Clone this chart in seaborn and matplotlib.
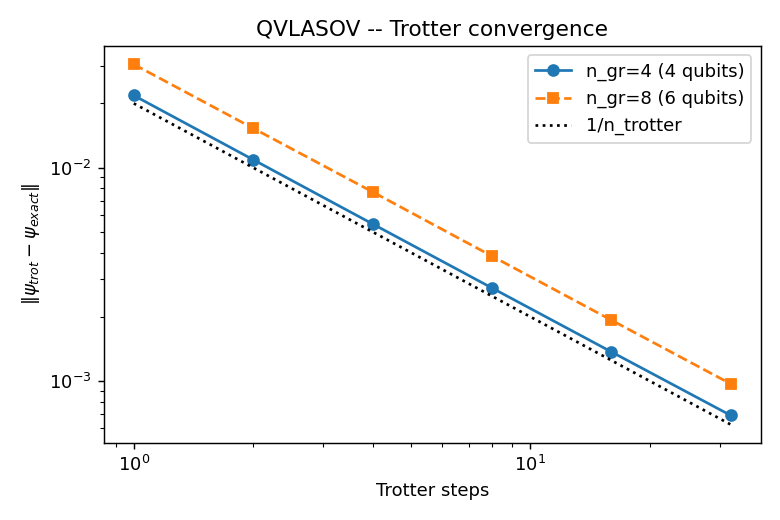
import matplotlib
matplotlib.use("Agg")
import matplotlib.pyplot as plt
import seaborn as sns
import pandas as pd

n_trotter = [1, 2, 4, 8, 16, 32]
err_ngr4 = [0.0218, 0.0109, 0.00545, 0.00273, 0.00137, 0.00069]
err_ngr8 = [0.0305, 0.0153, 0.0077, 0.00385, 0.00193, 0.00097]
ref_line = [0.02, 0.01, 0.005, 0.0025, 0.00125, 0.000625]

df = pd.DataFrame({"n": n_trotter, "a": err_ngr4, "b": err_ngr8, "r": ref_line})

# 6x4 inch figure at 130 dpi -> 780x520
fig, ax = plt.subplots(figsize=(6, 4), dpi=130)
sns.lineplot(data=df, x="n", y="a", marker="o", markersize=6, markeredgewidth=1,
             markeredgecolor="#1f77b4", color="#1f77b4",
             label="n_gr=4 (4 qubits)", ax=ax)
sns.lineplot(data=df, x="n", y="b", marker="s", markersize=6, markeredgewidth=1,
             markeredgecolor="#ff7f0e", linestyle="--", color="#ff7f0e",
             label="n_gr=8 (6 qubits)", ax=ax)
sns.lineplot(data=df, x="n", y="r", linestyle=":", color="black",
             label="1/n_trotter", ax=ax)
ax.set_xscale("log")
ax.set_yscale("log")
ax.set_xlabel("Trotter steps")
ax.set_ylabel(r"$\|\psi_{trot} - \psi_{exact}\|$")
ax.set_title("QVLASOV -- Trotter convergence")
ax.legend(loc="upper right")
fig.tight_layout()
fig.savefig("out.png", dpi=130)
